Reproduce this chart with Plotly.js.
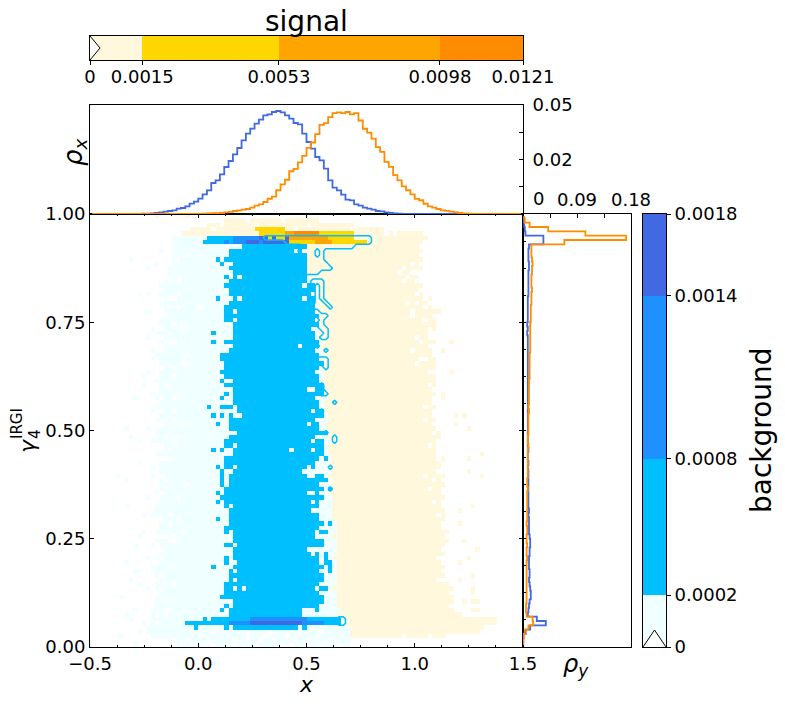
<!DOCTYPE html>
<html><head><meta charset="utf-8">
<script src="https://cdn.plot.ly/plotly-3.0.1.min.js"></script>
<style>html,body{margin:0;padding:0;background:#fff}#c{width:785px;height:707px}</style>
</head><body><div id="c"></div>
<script>
// ---- top marginal histogram (rho_x, units of 1e-3), 100 bins over x
const rhoXBlue=[0,0,0,0,0,0,0,0,0,0,0,0,.15,.2,.3,.46,.76,1.07,1.38,1.68,2.45,2.75,3.52,4.74,5.66,7.03,9.02,10.86,14.22,15.44,18.2,21.56,24.31,27.37,30.27,33.79,36.85,39.14,41.44,43.27,45.26,45.72,46.79,47.25,46.63,45.26,43.73,41.74,41.13,36.85,33.03,29.97,26.15,24.62,20.79,15.44,12.08,10.86,8.87,6.57,6.27,4.43,3.82,2.91,2.45,1.99,1.38,1.22,.76,.46,.31,.15,.1,0,0,0,0,0,0,0,0,0,0,0,0,0,0,0,0,0,0,0,0,0,0,0,0,0,0,0];
const rhoXOrange=[0,0,0,0,0,0,0,0,0,0,0,0,0,0,0,0,0,0,0,0,0,0,0,0,0,0,.15,.3,.35,.4,.46,.76,1,1.38,1.7,2,2.3,2.9,3.8,4.4,5.5,7,8,10.9,13.6,15.7,19.6,20.7,23.7,26.7,30.3,32.8,36.6,40.9,41.7,44.4,46.3,46.6,46.3,46.8,45.7,46.3,42.9,39.1,37.3,34.6,30.7,28.5,23.9,21.6,17.8,15.4,12.7,10.9,9,6.9,6.3,4.7,3.5,2.9,2.3,1.7,1.4,1.07,.76,.46,.3,.15,0,0,0,0,0,0,0,0,0,0,0,0];
// ---- right marginal histogram (rho_y, units of 1e-3), row 0 (bottom) to row 99 (top)
const rhoYBlue=[.5,.5,1,4.5,12,38,23,8,9,10,11,13,13,12,11,10,11,11,10,10,10,11,11,12,12,11,10,10,10,10,9,10,9,9,9,9,9,9,9,9,9,8,9,8,8,9,8,8,8,8,8,8,8,8,8,8,8,8,8,8,8,8,8,8,8,8,8,8,8,8,8,8,7,8,7,8,8,8,8,8,8,9,9,9,9,9,9,10,10,9,9,9,10,34,34,4,3,2,1,.5];
const rhoYOrange=[.3,.4,1,3,9,17,16,6,5,5,6,6,6,6,6,6,6,6,6,6,7,6,6,7,6,6,7,7,6,7,7,7,7,7,7,7,8,7,7,8,8,8,8,8,8,8,9,8,8,9,9,9,9,9,10,9,10,10,10,10,10,10,11,11,11,11,11,11,12,12,12,12,12,12,12,13,13,13,13,14,14,14,15,14,14,14,15,15,16,15,14,14,14,69,172,104,42,11,3,2];

// ---- level colours and boundaries
const signalColors=["#fff8dc","#ffd700","#ffa500","#ff8c00"];
const backgroundColors=["#f0ffff","#00bfff","#1e90ff","#4169e1"];
const signalLevels=[0,0.00146,0.00528,0.00978,0.0121];
const signalTicks=["0","0.0015","0.0053","0.0098","0.0121"];
const backgroundLevels=[0,0.00021,0.00076,0.00142,0.00175];
const backgroundTicks=["0","0.0002","0.0008","0.0014","0.0018"];

// ---- 2D histogram (100 x 100 cells), described row by row, row 0 at bottom
// first / last column with background class 2, rows 7..92
const blueL=[32,32,33,33,30,31,34,31,32,32,32,33,34,33,33,33,34,33,33,31,31,32,32,32,32,31,31,30,31,31,32,32,32,33,31,31,31,33,33,31,31,32,34,32,32,32,35,34,34,33,33,33,33,31,33,31,30,31,31,30,30,32,33,32,33,33,33,33,31,31,31,31,32,32,32,32,31,32,35,33,32,33,31,32,32,35];
const blueR=[48,48,52,53,53,52,51,52,53,53,52,53,52,52,50,49,53,53,51,51,52,53,52,52,50,52,50,53,49,53,52,54,49,48,49,51,52,53,50,53,50,51,54,52,49,51,53,50,52,52,51,54,49,53,52,52,51,52,53,53,52,51,52,52,51,50,50,52,51,52,52,51,51,48,50,50,48,49,49,52,55,54,53,53,53,53];
// isolated class-2 cells [row, col]
const blueExtra=[[89,29],[88,30],[85,31],[85,33],[83,50],[83,51],[80,29],[80,50],[72,28],[72,51],[70,28],[70,31],[61,30],[58,31],[57,30],[55,27],[55,30],[55,31],[55,32],[53,28],[53,30],[53,32],[52,36],[51,29],[51,51],[51,52],[47,52],[47,53],[47,56],[48,56],[45,28],[45,30],[45,52],[45,53],[41,29],[41,51],[41,55],[40,30],[39,30],[39,52],[39,53],[38,30],[37,30],[36,55],[35,29],[35,52],[33,29],[33,52],[59,52],[59,53],[54,52],[54,53],[43,54],[29,29],[28,55],[26,53],[26,54],[21,52],[21,54],[20,31],[20,54],[19,31],[19,54],[19,55],[18,28],[18,55],[17,55],[13,31],[13,32],[13,53],[13,54],[9,31],[8,30],[8,52],[23,31],[23,32],
 [79,54],[78,55],[66,54],[65,54],[64,54],[56,56],[84,51],[84,52],[84,53],[83,53],[82,51],[82,53],[81,51],[81,53],[80,51],[80,53],[76,53],[76,54],[75,53],[74,53],[73,53],[73,54],[72,54],[71,53],[71,54],[68,54],[92,54],[92,55],[92,56],[92,57],[92,58],[92,59],[92,60]];
// class-2 gaps inside the block [row, col]
const blueHoles=[[91,52],[90,52],[91,47],[80,32],[80,34],[77,33],[75,33],[69,48],[46,33],[45,46],[41,33],[32,32],[26,32],[17,33],[15,33],[13,33],[13,35]];
// runs at the band rows [row, firstCol, lastCol, class]
const backgroundRuns=[[4,24,24,2],[4,31,31,2],[4,33,47,2],[4,49,49,2],
 [5,22,31,2],[5,32,36,3],[5,37,48,4],[5,49,53,3],[5,54,58,2],
 [6,26,26,2],[6,28,36,2],[6,37,49,3],[6,50,58,2],
 [93,26,30,2],[93,31,31,3],[93,32,32,2],[93,33,35,3],[93,36,38,4],[93,39,39,3],[93,40,45,4],[93,46,50,3],[93,51,64,2],
 [94,27,32,2],[94,33,38,3],[94,39,50,4],[94,51,64,2]];
// class-1 background: first column per row, rows 0..94
const paleL=[20,18,14,13,13,14,14,14,14,15,15,15,16,15,15,16,15,15,15,16,15,16,17,16,15,17,15,16,16,17,14,15,15,16,16,15,16,16,16,17,16,16,16,17,15,17,16,15,16,15,16,17,15,16,17,15,16,15,16,16,16,15,16,16,17,16,16,16,17,17,16,17,16,17,17,16,18,17,17,16,17,17,17,16,17,18,18,18,19,19,19,19,19,19,19];
const paleEnd=59;
const paleExtra=[[89,9],[91,16],[87,13],[88,15],[81,11],[81,13],[81,16],[77,13],[78,17],[76,18],[74,16],[73,14],[72,15],[71,13],[68,14],[67,15],[66,14],[63,13],[62,12],[60,12],[57,10],[58,14],[54,14],[50,8],[48,9],[47,11],[50,13],[47,14],[49,16],[42,11],[41,14],[39,6],[38,8],[39,14],[34,13],[32,8],[30,12],[26,12],[25,11],[23,10],[23,14],[20,13],[19,8],[18,14],[17,10],[17,11],[15,9],[14,11],[13,13],[11,7],[8,10],[6,9],[7,8],[2,6],[2,7],[3,11],[5,12],[0,10]];
const paleHoles=[[90,22],[89,20],[85,20],[84,20],[84,18],[81,20],[80,19],[80,18],[78,20],[78,18],[74,21],[74,19],[73,21],[72,18],[70,17],[70,18],[70,19],[70,21],[67,22],[65,22],[65,21],[64,19],[62,19],[60,17],[59,18],[58,20],[57,19],[57,16],[54,16],[54,19],[52,17],[52,19],[51,21],[48,17],[48,20],[47,19],[46,16],[45,18],[43,17],[43,18],[38,17],[37,22],[35,16],[34,20],[33,18],[30,18],[29,20],[28,18],[26,21],[25,17],[25,19],[24,19],[24,18],[20,16],[18,18],[16,16],[14,19],[14,17],[13,16],[10,17],[8,17],[8,18],[7,15],[7,17],[5,15],[1,19],[1,22],[0,21],[78,25],
 [3,28],[3,36],[3,41],[2,25],[2,30],[2,36],[2,40],[2,45],[2,52],[1,27],[1,33],[1,36],[1,39],[1,42],[1,47],[1,50],[1,55],[0,24],[0,28],[0,33],[0,38],[0,44],[0,46],[0,50],[0,53],[0,57],[3,48],[3,53]];
// signal class-1: first and last column per row, rows 2..98
const creamL=[60,60,60,58,58,57,58,57,57,57,57,56,57,57,57,57,57,57,56,57,57,57,57,56,57,57,57,56,56,56,56,56,56,55,56,56,56,55,56,55,55,56,55,55,55,56,55,55,55,54,55,55,54,54,54,55,54,54,54,54,54,54,54,54,53,54,54,53,54,53,53,53,53,53,53,52,53,52,52,51,52,52,51,51,50,50,50,50,50,49,50,46,46,21,23,27,31];
const creamR=[81,89,90,93,93,85,83,82,83,83,82,83,82,80,81,80,81,80,80,81,80,81,82,81,82,80,81,81,81,81,80,80,81,80,80,81,80,81,80,80,80,81,79,80,79,79,80,80,79,78,79,78,78,79,78,78,79,78,79,79,79,78,79,79,79,78,78,77,79,78,78,79,79,79,78,80,78,77,78,76,75,76,75,76,74,76,75,76,76,76,75,76,77,76,67,60,52];
const creamExtra=[[70,83],[68,81],[53,84],[53,86],[50,87],[51,84],[44,90],[43,87],[40,87],[39,90],[32,88],[31,85],[28,85],[24,86],[22,89],[20,87],[19,85],[16,88],[15,85],[13,88],[12,88],[10,89],[10,88],[10,86],[8,88],[8,89],[63,83],[58,81],[58,79],[57,81],[99,15],[99,22]];
const creamHoles=[[52,77],[39,77],[36,78],[33,79],[20,80],[15,80],[86,71],[85,73],[84,72],[79,73],[77,74],[66,76],[65,75],[95,68],[95,70],[97,30],[97,38],[96,28],[96,47],[97,50],[98,36],[98,44],[96,60],[2,72],[2,78],
 [90,76],[88,74],[88,76],[87,72],[86,74],[85,76],[84,75],[81,75],[80,77],[79,75],[78,77],[78,79],[76,74],[75,77],[73,78],[71,75],[71,78],[72,78],[70,76],[68,74],[68,79],[66,77],[63,78],[49,79],[46,78],[45,80],[40,80],[38,79],[28,81],[60,78],[55,77],[43,80],[30,80]];
// signal runs [row, firstCol, lastCol, class]
const signalRuns=[[96,38,44,2],[95,39,44,2],[95,45,46,3],[95,47,52,4],[95,53,60,2],
 [94,41,41,2],[94,43,44,2],[94,46,54,3],[94,55,60,2],[93,46,51,2],[93,52,55,3],[93,56,63,2]];

// ---- grid assembly
const N=100;
function empty(){return Array.from({length:N},()=>Array(N).fill(null));}
const bg=empty(), sig=empty(), blueMask=Array.from({length:N},()=>Array(N).fill(0));
paleL.forEach((l,r)=>{for(let c=l;c<=paleEnd;c++)bg[r][c]=1;});
paleExtra.forEach(([r,c])=>bg[r][c]=1);
paleHoles.forEach(([r,c])=>bg[r][c]=null);
blueL.forEach((l,i)=>{const r=i+7;for(let c=l;c<=blueR[i];c++)bg[r][c]=2;});
blueExtra.forEach(([r,c])=>bg[r][c]=2);
blueHoles.forEach(([r,c])=>bg[r][c]=1);
backgroundRuns.forEach(([r,a,b,k])=>{for(let c=a;c<=b;c++)bg[r][c]=k;});
creamL.forEach((l,i)=>{const r=i+2;for(let c=l;c<=creamR[i];c++)sig[r][c]=1;});
creamExtra.forEach(([r,c])=>sig[r][c]=1);
creamHoles.forEach(([r,c])=>sig[r][c]=null);
signalRuns.forEach(([r,a,b,k])=>{for(let c=a;c<=b;c++)sig[r][c]=k;});
// the contour only shows where the signal layer hides the class-2 cells
for(let r=0;r<N;r++)for(let c=1;c<N-1;c++){
  const hidden=sig[r][c]!==null||sig[r][c-1]!==null||sig[r][c+1]!==null;
  blueMask[r][c]=(bg[r][c]>=2&&hidden)?1:0;
}

function scale(cols){return [[0,cols[0]],[.25,cols[0]],[.25,cols[1]],[.5,cols[1]],[.5,cols[2]],[.75,cols[2]],[.75,cols[3]],[1,cols[3]]];}
const cells={x0:-0.49,dx:0.02,y0:0.005,dy:0.01};
const xCentres=Array.from({length:N},(_,i)=>-0.49+0.02*i), yCentres=Array.from({length:N},(_,i)=>0.005+0.01*i);

const traces=[
 Object.assign({type:'heatmap',z:bg,zmin:.5,zmax:4.5,colorscale:scale(backgroundColors),showscale:false,hoverinfo:'skip',zsmooth:false},cells),
 Object.assign({type:'heatmap',z:sig,zmin:.5,zmax:4.5,colorscale:scale(signalColors),showscale:false,hoverinfo:'skip',zsmooth:false},cells),
 {type:'contour',x:xCentres,y:yCentres,z:blueMask,autocontour:false,contours:{coloring:'none',start:.5,end:.5,size:1},line:{color:'#00bfff',width:1.5,smoothing:0},showscale:false,hoverinfo:'skip'},
 {type:'scatter',mode:'lines',x:xCentres,y:rhoXBlue,xaxis:'x2',yaxis:'y2',line:{color:'#4169e1',width:1.8,shape:'hvh'},hoverinfo:'skip'},
 {type:'scatter',mode:'lines',x:xCentres,y:rhoXOrange,xaxis:'x2',yaxis:'y2',line:{color:'#ff8c00',width:1.8,shape:'hvh'},hoverinfo:'skip'},
 {type:'scatter',mode:'lines',x:rhoYBlue,y:yCentres,xaxis:'x3',yaxis:'y3',line:{color:'#4169e1',width:1.8,shape:'vhv'},hoverinfo:'skip'},
 {type:'scatter',mode:'lines',x:rhoYOrange,y:yCentres,xaxis:'x3',yaxis:'y3',line:{color:'#ff8c00',width:1.8,shape:'vhv'},hoverinfo:'skip'},
 {type:'bar',orientation:'h',y:[0,0,0,0],x:signalLevels.slice(1).map((v,i)=>v-signalLevels[i]),base:signalLevels.slice(0,4),width:1,marker:{color:signalColors,line:{width:0}},xaxis:'x4',yaxis:'y4',hoverinfo:'skip'},
 {type:'scatter',mode:'lines',x:[0,0.00028,0],y:[-.5,0,.5],fill:'toself',fillcolor:'#ffffff',line:{color:'#000',width:1},xaxis:'x4',yaxis:'y4',hoverinfo:'skip'},
 {type:'bar',orientation:'v',x:[0,0,0,0],y:backgroundLevels.slice(1).map((v,i)=>v-backgroundLevels[i]),base:backgroundLevels.slice(0,4),width:1,marker:{color:backgroundColors,line:{width:0}},xaxis:'x5',yaxis:'y5',hoverinfo:'skip'},
 {type:'scatter',mode:'lines',x:[-.5,0,.5],y:[0,0.0000687,0],fill:'toself',fillcolor:'#ffffff',line:{color:'#000',width:1},xaxis:'x5',yaxis:'y5',hoverinfo:'skip'}
];

const W=785,H=707;
const fx=(a,b)=>[a/W,b/W], fy=(top,bot)=>[(H-bot)/H,(H-top)/H];
const tf={family:'DejaVu Sans',size:18,color:'#000'};
const frame={showline:true,linecolor:'#000',linewidth:1,mirror:true,zeroline:false,showgrid:false,tickcolor:'#000',tickfont:tf,layer:'above traces'};
function note(text,x,y,size,angle){return {text,x:x/W,y:(H-y)/H,xref:'paper',yref:'paper',showarrow:false,xanchor:'center',yanchor:'middle',textangle:angle||0,font:{family:'DejaVu Sans',size,color:'#000'}};}

const layout={
 width:W,height:H,margin:{l:0,r:0,t:0,b:0},paper_bgcolor:'#fff',plot_bgcolor:'#fff',showlegend:false,barmode:'overlay',bargap:0,
 xaxis:Object.assign({},frame,{domain:fx(90,523),range:[-.5,1.5],anchor:'y',tickvals:[-.5,0,.5,1,1.5],ticktext:['−0.5','0.0','0.5','1.0','1.5'],ticks:'inside',ticklen:4,mirror:'ticks',minor:{dtick:.125,tick0:-.5,ticks:'inside',ticklen:2,tickcolor:'#000'}}),
 yaxis:Object.assign({},frame,{domain:fy(214,647),range:[0,1],anchor:'x',tickvals:[0,.25,.5,.75,1],ticktext:['0.00','0.25','0.50','0.75','1.00'],ticks:'inside',ticklen:4,mirror:'ticks'}),
 xaxis2:Object.assign({},frame,{domain:fx(90,523),range:[-.5,1.5],anchor:'y2',showticklabels:false,ticks:''}),
 yaxis2:Object.assign({},frame,{domain:fy(105,214),range:[0,50],anchor:'x2',side:'right',tickvals:[25,50],ticktext:['0.02','0.05'],ticks:'inside',ticklen:4,ticklabelstandoff:5,minor:{dtick:12.5,ticks:'inside',ticklen:4,tickcolor:'#000'}}),
 xaxis3:Object.assign({},frame,{domain:fx(523,631),range:[0,180],anchor:'y3',side:'top',tickvals:[90,180],ticktext:['0.09','0.18'],ticks:'inside',ticklen:4,minor:{dtick:45,ticks:'inside',ticklen:4,tickcolor:'#000'}}),
 yaxis3:Object.assign({},frame,{domain:fy(214,647),range:[0,1],anchor:'x3',showticklabels:false,tickvals:[.0625,.125,.1875,.25,.3125,.375,.4375,.5,.5625,.625,.6875,.75,.8125,.875,.9375],ticks:'inside',ticklen:3}),
 xaxis4:Object.assign({},frame,{domain:fx(90,523),range:[0,0.0121],anchor:'y4',tickvals:signalLevels,ticktext:signalTicks,ticks:'outside',ticklen:4,ticklabelstandoff:-4}),
 yaxis4:Object.assign({},frame,{domain:fy(36,60),range:[-.5,.5],anchor:'x4',showticklabels:false,ticks:''}),
 xaxis5:Object.assign({},frame,{domain:fx(643,666),range:[-.5,.5],anchor:'y5',showticklabels:false,ticks:''}),
 yaxis5:Object.assign({},frame,{domain:fy(214,647),range:[0,0.00175],anchor:'x5',side:'right',tickvals:backgroundLevels,ticktext:backgroundTicks,ticks:'outside',ticklen:4}),
 annotations:[
  note('signal',306,22,28),
  note('background',761,430,28,-90),
  note('<i>x</i>',306,684,22),
  note('<i>ρ<sub>y</sub></i>',576,665,24),
  note('<i>ρ<sub>x</sub></i>',74,152,26,-90),
  note('<i>γ</i>',27,446,22,-90),
  note('4',35,434,15,-90),
  note('IRGI',17,424,15,-90),
  note('0',538,198,18)
 ]
};
Plotly.newPlot('c',traces,layout,{displayModeBar:false,staticPlot:true});
</script></body></html>
